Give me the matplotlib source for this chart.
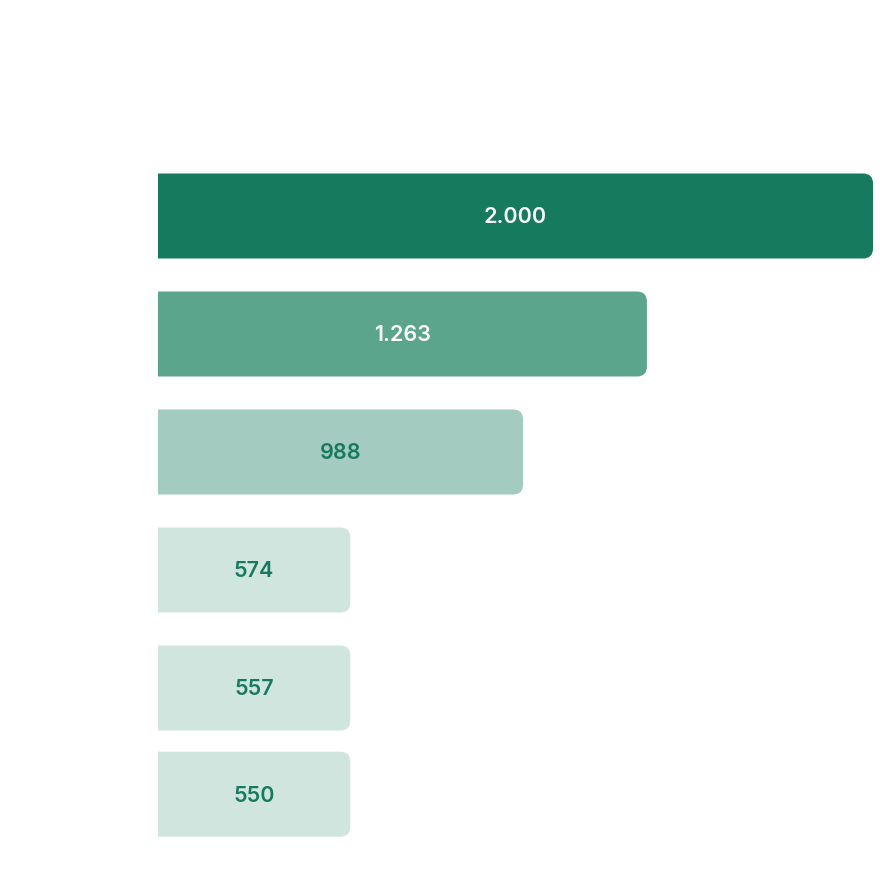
import matplotlib.pyplot as plt
from matplotlib.patches import FancyBboxPatch

# wartości pokazane na słupkach
labels = ["2.000", "1.263", "988", "574", "557", "550"]
values = [2000, 1263, 988, 574, 557, 550]
# długości słupków (w tych samych jednostkach)
bar_len = [2000, 1368, 1022, 539, 539, 539]
colors = ["#167B5E", "#5CA58D", "#A3CBBF", "#D1E5DF", "#D1E5DF", "#D1E5DF"]
text_colors = ["white", "white", "#167B5E", "#167B5E", "#167B5E", "#167B5E"]

W, H = 880, 881
fig = plt.figure(figsize=(W / 100, H / 100), dpi=100)
ax = fig.add_axes([157.5 / W, 0, 1 - 157.5 / W, 1])

pos = [0, 1, 2, 3, 4, 4.9]
h = 85 / 118
x_max = 2000 * (W - 157.5) / (873 - 157.5)
ax.set_xlim(0, x_max)
ax.set_ylim((H - 216) / 118, -216 / 118)
ax.axis("off")

# proporcja jednostek osi (dla zaokrągleń)
px_x = (W - 157.5) / x_max
px_y = 118
aspect = px_x / px_y
r = 10 / px_x

for y, L, c, tc, lab in zip(pos, bar_len, colors, text_colors, labels):
    p = FancyBboxPatch((-3 * r, y - h / 2), L + 3 * r, h,
                       boxstyle=f"round,pad=0,rounding_size={r}",
                       mutation_aspect=aspect,
                       facecolor=c, edgecolor="none", clip_on=True)
    ax.add_patch(p)
    ax.text(L / 2, y + 0.012, lab, ha="center", va="center", color=tc,
            fontsize=15.5, fontweight="semibold", family=["Inter", "DejaVu Sans"])

fig.savefig("out.png", dpi=100)
